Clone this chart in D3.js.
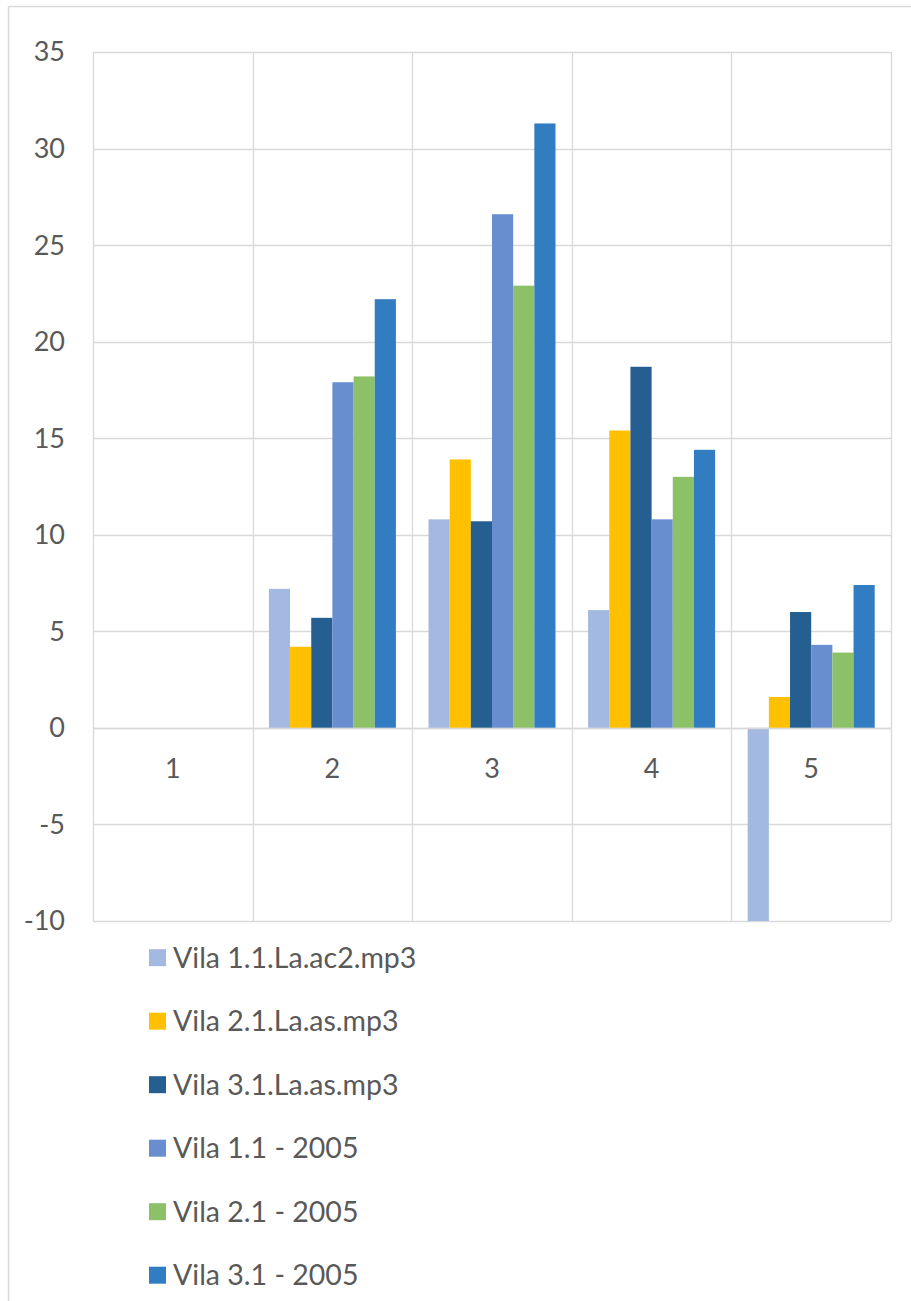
<!DOCTYPE html>
<html><head><meta charset="utf-8">
<script src="https://cdn.jsdelivr.net/npm/d3@7"></script>
<style>html,body{margin:0;padding:0;background:#fff;}svg{display:block;}</style>
</head><body>
<svg id="chart" width="911" height="1301"></svg>
<script>
const categories = ["1", "2", "3", "4", "5"];
const seriesNames = ["Vila 1.1.La.ac2.mp3", "Vila 2.1.La.as.mp3", "Vila 3.1.La.as.mp3", "Vila 1.1 - 2005", "Vila 2.1 - 2005", "Vila 3.1 - 2005"];
const seriesColors = ["#a3b9e1", "#ffc000", "#255e91", "#698ed0", "#8dc168", "#327dc2"];
const vila11ac2 = [0, 7.2, 10.8, 6.1, -10];
const vila21as = [0, 4.2, 13.9, 15.4, 1.6];
const vila31as = [0, 5.7, 10.7, 18.7, 6.0];
const vila11_2005 = [0, 17.9, 26.6, 10.8, 4.3];
const vila21_2005 = [0, 18.2, 22.9, 13.0, 3.9];
const vila31_2005 = [0, 22.2, 31.3, 14.4, 7.4];
const yTicks = [35, 30, 25, 20, 15, 10, 5, 0, -5, -10];
const seriesValues = [vila11ac2, vila21as, vila31as, vila11_2005, vila21_2005, vila31_2005];

const svg = d3.select("#chart");
const font = "Lato, 'Open Sans', sans-serif";
const grid = "#d9d9d9";
const textCol = "#595959";

// outer border
svg.append("line").attr("x1", 8.5).attr("x2", 911).attr("y1", 6.5).attr("y2", 6.5).attr("stroke", grid).attr("stroke-width", 1.5);
svg.append("line").attr("x1", 8.5).attr("x2", 8.5).attr("y1", 6.5).attr("y2", 1301).attr("stroke", grid).attr("stroke-width", 1.5);

const L = 93, R = 891, T = 52, B = 921;
const y = d3.scaleLinear().domain([-10, 35]).range([B, T]);
const x = d3.scaleBand().domain(categories).range([L, R]).paddingInner(0).paddingOuter(0);
const inner = d3.scaleBand().domain(d3.range(seriesNames.length)).range([0, x.bandwidth()]).paddingOuter(0.77).paddingInner(0);

// horizontal gridlines
svg.append("g").selectAll("line").data(yTicks).join("line")
  .attr("x1", L).attr("x2", R).attr("y1", d => Math.round(y(d)) + 0.5).attr("y2", d => Math.round(y(d)) + 0.5)
  .attr("stroke", grid).attr("stroke-width", 1.3);
// vertical gridlines
const vx = categories.map(c => x(c)).concat([R]);
svg.append("g").selectAll("line").data(vx).join("line")
  .attr("x1", d => Math.round(d) + 0.5).attr("x2", d => Math.round(d) + 0.5).attr("y1", T).attr("y2", B)
  .attr("stroke", grid).attr("stroke-width", 1.3);

// bars
svg.append("clipPath").attr("id", "pc").append("rect").attr("x", L).attr("y", T).attr("width", R - L).attr("height", B - T);
const barData = [];
categories.forEach((c, ci) => seriesValues.forEach((vals, si) => barData.push({c, si, v: vals[ci]})));
svg.append("g").attr("clip-path", "url(#pc)").selectAll("rect").data(barData.filter(d => d.v !== 0)).join("rect")
  .attr("x", d => x(d.c) + inner(d.si))
  .attr("width", inner.bandwidth())
  .attr("y", d => Math.min(y(d.v), y(0)))
  .attr("height", d => Math.abs(y(d.v) - y(0)))
  .attr("fill", d => seriesColors[d.si]);

// zero axis line
svg.append("line").attr("x1", L).attr("x2", R).attr("y1", Math.round(y(0)) + 0.5).attr("y2", Math.round(y(0)) + 0.5).attr("stroke", grid).attr("stroke-width", 1.5);

// y axis labels
svg.append("g").selectAll("text").data(yTicks).join("text")
  .attr("x", 65).attr("y", d => y(d)).attr("dy", "0.35em").attr("text-anchor", "end")
  .attr("font-family", font).attr("font-size", 27).attr("fill", textCol).text(d => d);

// category labels
svg.append("g").selectAll("text").data(categories).join("text")
  .attr("x", d => x(d) + x.bandwidth() / 2).attr("y", y(0) + 41).attr("dy", "0.35em").attr("text-anchor", "middle")
  .attr("font-family", font).attr("font-size", 27).attr("fill", textCol).text(d => d);

// legend
const lg = svg.append("g").selectAll("g").data(seriesNames).join("g")
  .attr("transform", (d, i) => `translate(149, ${957.7 + i * 63.5})`);
lg.append("rect").attr("x", 0).attr("y", -8.5).attr("width", 17).attr("height", 17).attr("fill", (d, i) => seriesColors[i]);
lg.append("text").attr("x", 24).attr("y", 0).attr("dy", "0.35em")
  .attr("font-family", font).attr("font-size", 28.5).attr("fill", textCol).text(d => d);
</script>
</body></html>
